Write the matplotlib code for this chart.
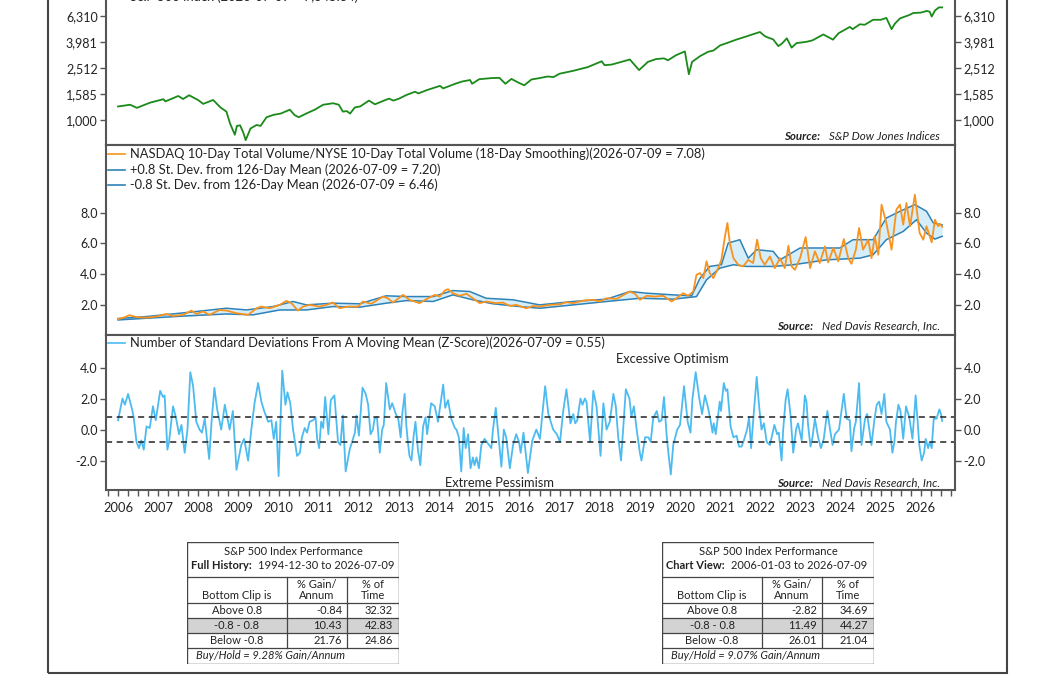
import numpy as np
import matplotlib
matplotlib.use("Agg")
import matplotlib.pyplot as plt
from matplotlib.ticker import FixedLocator, FuncFormatter, MultipleLocator
from matplotlib.patches import Rectangle

plt.rcParams['font.family'] = ['Lato', 'DejaVu Sans']

# ---- S&P 500 (log scale) ----
spx_t = [2006.00, 2006.30, 2006.47, 2006.80, 2007.13, 2007.18, 2007.50, 2007.62, 2007.77, 2008.00,
         2008.12, 2008.37, 2008.55, 2008.70, 2008.79, 2008.85, 2008.91, 2008.96, 2009.04, 2009.12,
         2009.18, 2009.30, 2009.45, 2009.55, 2009.70, 2009.87, 2010.05, 2010.28, 2010.40, 2010.50,
         2010.70, 2010.90, 2011.11, 2011.36, 2011.50, 2011.60, 2011.70, 2011.78, 2011.90, 2012.03,
         2012.25, 2012.40, 2012.60, 2012.75, 2012.86, 2013.00, 2013.19, 2013.40, 2013.48, 2013.70,
         2014.02, 2014.10, 2014.40, 2014.58, 2014.77, 2014.82, 2015.00, 2015.30, 2015.50, 2015.65,
         2015.80, 2016.00, 2016.12, 2016.30, 2016.50, 2016.70, 2016.85, 2017.00, 2017.34, 2017.70,
         2018.05, 2018.12, 2018.30, 2018.75, 2018.98, 2019.20, 2019.40, 2019.60, 2019.70, 2019.90,
         2020.12, 2020.22, 2020.30, 2020.50, 2020.70, 2020.83, 2021.00, 2021.16, 2021.40, 2021.66,
         2021.80, 2021.99, 2022.12, 2022.20, 2022.32, 2022.45, 2022.55, 2022.66, 2022.78, 2022.90,
         2023.16, 2023.30, 2023.57, 2023.81, 2023.95, 2024.23, 2024.30, 2024.48, 2024.60, 2024.81,
         2025.00, 2025.14, 2025.27, 2025.35, 2025.48, 2025.70, 2025.81, 2026.00, 2026.15, 2026.22,
         2026.27, 2026.35, 2026.45, 2026.53]
spx_v = [1270, 1310, 1240, 1360, 1445, 1390, 1530, 1450, 1550, 1420,
         1330, 1425, 1250, 1160, 940, 850, 770, 900, 910, 800,
         700, 860, 915, 900, 1050, 1095, 1120, 1200, 1090, 1050,
         1125, 1200, 1310, 1345, 1310, 1160, 1170, 1120, 1250, 1270,
         1410, 1320, 1400, 1460, 1410, 1460, 1560, 1650, 1600, 1700,
         1830, 1750, 1900, 1980, 2030, 1900, 2060, 2100, 2110, 1900,
         2070, 1920, 1850, 2050, 2100, 2160, 2140, 2270, 2390, 2550,
         2830, 2640, 2670, 2920, 2420, 2800, 2940, 2980, 2880, 3150,
         3370, 2250, 2800, 3100, 3350, 3420, 3750, 3900, 4150, 4400,
         4550, 4750, 4400, 4300, 4170, 3700, 3900, 4250, 3600, 3900,
         4000, 4100, 4550, 4150, 4650, 5200, 5000, 5450, 5400, 5900,
         5900, 6100, 5000, 5500, 6050, 6400, 6650, 6700, 6900, 6800,
         6250, 6950, 7350, 7346]

# ---- NASDAQ/NYSE volume ratio ----
ratio_t = [2006.00, 2006.17, 2006.29, 2006.46, 2006.71, 2006.95, 2007.20, 2007.37, 2007.62, 2007.83,
           2007.95, 2008.12, 2008.28, 2008.53, 2008.70, 2008.95, 2009.24, 2009.45, 2009.57, 2009.78,
           2010.03, 2010.19, 2010.32, 2010.48, 2010.61, 2010.77, 2011.02, 2011.19, 2011.35, 2011.52,
           2011.73, 2011.98, 2012.10, 2012.31, 2012.60, 2012.72, 2012.85, 2013.10, 2013.26, 2013.51,
           2013.68, 2013.89, 2014.01, 2014.14, 2014.22, 2014.34, 2014.51, 2014.68, 2014.84, 2015.01,
           2015.17, 2015.42, 2015.59, 2015.76, 2015.92, 2016.17, 2016.34, 2016.50, 2016.76, 2017.01,
           2017.17, 2017.34, 2017.59, 2017.84, 2018.00, 2018.17, 2018.42, 2018.67, 2018.75, 2018.88,
           2019.00, 2019.17, 2019.37, 2019.58, 2019.79, 2019.91, 2020.08, 2020.20, 2020.33, 2020.41,
           2020.50, 2020.58, 2020.66, 2020.74, 2020.83, 2020.95, 2021.03, 2021.12, 2021.18, 2021.24,
           2021.33, 2021.45, 2021.57, 2021.70, 2021.82, 2021.92, 2022.01, 2022.11, 2022.24, 2022.36,
           2022.49, 2022.61, 2022.70, 2022.78, 2022.86, 2022.99, 2023.13, 2023.24, 2023.36, 2023.48,
           2023.61, 2023.69, 2023.82, 2023.94, 2024.08, 2024.19, 2024.27, 2024.38, 2024.46, 2024.56,
           2024.69, 2024.77, 2024.85, 2024.94, 2025.02, 2025.14, 2025.27, 2025.39, 2025.48, 2025.56,
           2025.64, 2025.73, 2025.85, 2025.97, 2026.06, 2026.14, 2026.27, 2026.35, 2026.43, 2026.47,
           2026.53]
ratio_v = [1.07, 1.20, 1.33, 1.20, 1.17, 1.24, 1.41, 1.28, 1.35, 1.63,
           1.41, 1.57, 1.35, 1.67, 1.63, 1.46, 1.35, 1.78, 1.89, 1.78,
           2.00, 2.26, 2.11, 1.63, 1.89, 2.00, 1.89, 2.00, 2.15, 1.78,
           1.89, 1.89, 2.22, 2.07, 2.54, 2.43, 2.15, 2.65, 2.33, 2.11,
           2.37, 2.65, 2.54, 2.93, 3.02, 2.76, 2.59, 2.72, 2.43, 2.11,
           2.22, 2.11, 2.15, 1.93, 2.00, 1.78, 1.93, 1.89, 2.00, 2.04,
           2.17, 2.11, 2.28, 2.33, 2.22, 2.43, 2.39, 2.76, 2.87, 2.72,
           2.33, 2.59, 2.54, 2.59, 2.22, 2.43, 2.76, 2.59, 2.87, 3.96,
           4.07, 3.74, 4.83, 4.07, 3.74, 4.39, 4.93, 6.46, 7.33, 6.02,
           5.04, 4.61, 4.50, 4.93, 4.72, 6.24, 5.04, 4.61, 5.15, 4.39,
           5.04, 4.39, 5.85, 4.50, 4.28, 5.04, 6.41, 4.39, 5.48, 4.72,
           5.80, 4.76, 5.70, 4.83, 6.28, 5.04, 4.67, 5.59, 7.00, 5.59,
           6.24, 5.04, 6.46, 5.26, 8.52, 7.33, 5.59, 8.20, 8.52, 7.22,
           8.63, 7.11, 9.17, 6.67, 6.24, 7.11, 6.07, 7.54, 7.11, 7.28,
           7.08]

upper_t = [2006.00, 2006.71, 2007.70, 2008.70, 2009.20, 2009.86, 2010.36, 2010.69, 2011.35, 2012.02,
           2012.68, 2013.18, 2013.85, 2014.34, 2014.76, 2015.17, 2015.84, 2016.50, 2017.34, 2018.17,
           2018.75, 2019.17, 2019.83, 2020.29, 2020.50, 2020.74, 2021.03, 2021.20, 2021.49, 2021.70,
           2021.91, 2022.32, 2022.49, 2022.99, 2023.65, 2023.98, 2024.31, 2024.81, 2025.14, 2025.48,
           2025.85, 2026.14, 2026.31, 2026.53]
upper_v = [1.11, 1.24, 1.50, 1.78, 1.67, 1.89, 2.22, 2.00, 2.11, 2.07,
           2.59, 2.54, 2.54, 2.93, 2.87, 2.43, 2.33, 2.00, 2.22, 2.37,
           2.87, 2.76, 2.65, 2.59, 3.74, 4.50, 4.61, 6.02, 6.24, 5.04,
           5.59, 5.48, 4.93, 5.70, 5.70, 5.70, 6.24, 6.24, 7.65, 8.09,
           8.52, 8.09, 7.33, 7.20]

lower_t = [2006.00, 2006.71, 2007.70, 2008.70, 2009.36, 2010.03, 2010.69, 2011.35, 2012.02, 2012.68,
           2013.18, 2013.85, 2014.34, 2014.84, 2015.34, 2016.00, 2016.51, 2017.34, 2018.17, 2019.00,
           2019.83, 2020.41, 2020.66, 2020.99, 2021.33, 2021.66, 2022.32, 2022.82, 2023.65, 2024.48,
           2024.81, 2025.14, 2025.56, 2025.89, 2026.14, 2026.35, 2026.53]
lower_v = [1.02, 1.13, 1.28, 1.41, 1.35, 1.67, 1.67, 1.89, 1.85, 2.11,
           2.28, 2.22, 2.65, 2.33, 2.07, 1.89, 1.78, 2.00, 2.22, 2.43,
           2.37, 2.54, 3.63, 4.39, 4.61, 4.50, 4.50, 4.61, 4.93, 5.04,
           5.26, 6.24, 6.78, 7.54, 6.67, 6.28, 6.46]

# ---- Z-score ----
z_t = [2006.00, 2006.11, 2006.17, 2006.25, 2006.35, 2006.39, 2006.46, 2006.52, 2006.58, 2006.64,
       2006.71, 2006.79, 2006.87, 2006.94, 2007.01, 2007.05, 2007.12, 2007.16, 2007.23, 2007.27,
       2007.37, 2007.44, 2007.52, 2007.58, 2007.66, 2007.73, 2007.80, 2007.87, 2007.95, 2008.03,
       2008.09, 2008.16, 2008.27, 2008.33, 2008.40, 2008.47, 2008.57, 2008.66, 2008.72, 2008.78,
       2008.86, 2008.95, 2009.01, 2009.07, 2009.14, 2009.24, 2009.32, 2009.40, 2009.49, 2009.57,
       2009.64, 2009.74, 2009.82, 2009.88, 2009.94, 2010.00, 2010.09, 2010.17, 2010.22, 2010.29,
       2010.36, 2010.46, 2010.53, 2010.58, 2010.65, 2010.71, 2010.77, 2010.86, 2010.92, 2010.96,
       2011.01, 2011.06, 2011.11, 2011.16, 2011.24, 2011.30, 2011.39, 2011.48, 2011.54, 2011.60,
       2011.67, 2011.77, 2011.90, 2011.94, 2012.00, 2012.09, 2012.17, 2012.23, 2012.29, 2012.35,
       2012.39, 2012.45, 2012.52, 2012.58, 2012.62, 2012.68, 2012.77, 2012.83, 2012.92, 2012.98,
       2013.04, 2013.08, 2013.14, 2013.18, 2013.22, 2013.26, 2013.31, 2013.36, 2013.41, 2013.47,
       2013.53, 2013.60, 2013.66, 2013.70, 2013.80, 2013.89, 2013.97, 2014.10, 2014.15, 2014.22,
       2014.30, 2014.39, 2014.43, 2014.49, 2014.55, 2014.61, 2014.66, 2014.72, 2014.78, 2014.84,
       2014.88, 2014.93, 2014.99, 2015.05, 2015.13, 2015.30, 2015.34, 2015.41, 2015.55, 2015.61,
       2015.67, 2015.76, 2015.84, 2015.92, 2015.99, 2016.03, 2016.10, 2016.21, 2016.32, 2016.42,
       2016.51, 2016.64, 2016.72, 2016.84, 2016.93, 2017.01, 2017.09, 2017.17, 2017.27, 2017.34,
       2017.39, 2017.44, 2017.52, 2017.57, 2017.63, 2017.67, 2017.76, 2017.84, 2017.92, 2018.02,
       2018.09, 2018.17, 2018.25, 2018.34, 2018.40, 2018.46, 2018.53, 2018.65, 2018.74, 2018.79,
       2018.85, 2018.92, 2019.00, 2019.04, 2019.13, 2019.21, 2019.27, 2019.33, 2019.42, 2019.48,
       2019.54, 2019.60, 2019.67, 2019.71, 2019.77, 2019.83, 2019.87, 2019.93, 2020.00, 2020.10,
       2020.19, 2020.26, 2020.31, 2020.39, 2020.48, 2020.55, 2020.62, 2020.69, 2020.76, 2020.81,
       2020.84, 2020.89, 2020.99, 2021.02, 2021.09, 2021.14, 2021.18, 2021.26, 2021.33, 2021.41,
       2021.47, 2021.53, 2021.59, 2021.67, 2021.72, 2021.77, 2021.82, 2021.91, 2021.97, 2022.03,
       2022.09, 2022.16, 2022.24, 2022.35, 2022.42, 2022.46, 2022.53, 2022.57, 2022.63, 2022.68,
       2022.75, 2022.82, 2022.89, 2022.94, 2023.03, 2023.11, 2023.15, 2023.19, 2023.25, 2023.30,
       2023.36, 2023.44, 2023.51, 2023.58, 2023.67, 2023.72, 2023.80, 2023.86, 2023.96, 2024.08,
       2024.15, 2024.23, 2024.27, 2024.34, 2024.38, 2024.46, 2024.52, 2024.61, 2024.66, 2024.77,
       2024.84, 2024.90, 2024.96, 2025.02, 2025.09, 2025.14, 2025.23, 2025.29, 2025.34, 2025.38,
       2025.44, 2025.49, 2025.56, 2025.63, 2025.71, 2025.79, 2025.87, 2025.92, 2025.96, 2026.02,
       2026.08, 2026.12, 2026.18, 2026.22, 2026.27, 2026.32, 2026.39, 2026.46, 2026.50, 2026.53]
z_v = [0.6, 2.0, 1.6, 2.3, 1.3, 0.8, -0.8, -1.2, -0.7, -1.3,
       0.2, 0.1, 1.5, 0.6, 1.8, 2.5, 2.1, 2.2, -1.3, -0.8,
       1.5, 0.8, -0.3, 0.3, -1.5, 0.0, 3.7, 2.8, 0.5, 0.0,
       -0.2, 0.7, -1.9, 0.5, 2.7, 1.3, 0.0, 1.6, 0.8, 0.0,
       1.2, -2.6, -1.8, -1.0, -0.6, -2.0, 0.0, 1.7, 3.0, 1.8,
       1.2, 0.5, 0.6, -0.6, 0.5, -3.0, 3.8, 1.6, 2.4, 1.7,
       0.0, -1.7, -1.5, -0.5, 0.1, -0.2, 0.5, 0.6, 0.8, -0.6,
       -1.2, 0.5, 0.1, 2.1, -0.3, 1.9, 2.2, -0.8, -1.0, 0.9,
       -2.7, -1.3, -0.2, 0.9, -0.4, 2.7, 2.3, 1.6, -0.3, 0.0,
       0.7, 0.8, -1.5, 0.0, 0.3, 3.0, 1.3, 1.7, 1.0, 0.7,
       -0.5, 1.0, 2.3, 0.3, -0.8, -1.7, -2.0, -0.5, 0.5, -1.3,
       -2.3, 0.2, 0.8, -0.3, 1.7, 1.5, 0.5, 2.9, 1.4, 1.9,
       0.7, 0.1, 0.0, -0.5, -2.7, 0.1, -1.2, -0.3, -2.5, -1.8,
       -2.3, -1.8, -2.5, -1.0, -0.6, -1.2, 0.0, 1.4, -2.4, 0.0,
       -0.5, -2.5, -1.0, -0.3, -0.8, -1.5, -0.2, -2.8, -0.7, 0.0,
       -0.6, 2.8, 1.0, 0.0, -0.3, -0.8, 1.2, 2.6, 0.4, 1.0,
       0.4, 0.6, 2.0, 1.6, 2.0, 1.8, -0.8, 2.5, 1.5, -1.7,
       1.7, 0.0, 0.5, 2.3, 1.5, -0.5, -2.0, 2.6, 2.0, 0.8,
       1.5, 0.0, -1.5, -2.0, -0.5, -0.5, -0.8, 0.7, 1.2, 0.5,
       0.6, 2.1, -0.5, -1.5, -2.9, -1.0, -0.6, 0.0, 0.3, 2.8,
       0.5, -0.2, 2.0, 3.7, 2.0, 1.0, 2.2, 1.5, 0.6, -0.2,
       0.4, -0.3, 1.8, 1.2, 3.0, 2.5, 2.6, 0.2, -0.5, -0.4,
       -1.1, -1.1, -0.7, 0.0, 0.8, -1.2, 0.5, 3.4, 1.5, 0.0,
       0.4, -0.8, -1.0, 0.3, -0.3, -0.2, -2.0, 0.0, 1.9, 2.6,
       1.0, -1.5, 0.0, 0.4, -0.7, 2.2, 1.8, 0.3, -1.1, -0.5,
       0.7, -0.5, -1.2, -0.6, 1.2, 0.3, -1.0, -0.3, 0.0, 2.3,
       0.7, 0.6, -1.4, 0.1, 0.5, 3.0, -1.0, 0.7, 1.0, -1.0,
       0.6, 1.6, 1.8, 1.0, 2.3, 0.5, 0.0, -1.5, -0.8, 0.5,
       1.6, 1.2, -0.6, 1.5, 0.8, -0.6, 2.2, 0.5, -1.0, -2.0,
       -1.5, -0.6, -1.2, -0.8, -1.2, 0.7, 0.7, 1.3, 1.0, 0.55]

clip_hi, clip_lo = 0.8, -0.8

# ---- performance tables ----
clip_rows = ["Above 0.8", "-0.8 - 0.8", "Below -0.8"]
full_gain = ["-0.84", "10.43", "21.76"]
full_time = ["32.32", "42.83", "24.86"]
view_gain = ["-2.82", "11.49", "26.01"]
view_time = ["34.69", "44.27", "21.04"]

W, H = 1056, 675
fig = plt.figure(figsize=(W / 100, H / 100), dpi=100)

spine_col = "#555555"
txt_col = "#222222"
green = "#1a8a1a"
orange = "#f7931e"
band_col = "#2f82b8"
band_fill = "#d5eefa"
zcol = "#4dbbf0"


def px_axes(x0, y0, x1, y1):
    return fig.add_axes([x0 / W, 1 - y1 / H, (x1 - x0) / W, (y1 - y0) / H])


def style(ax, ticks, fmt):
    for s in ax.spines.values():
        s.set_color(spine_col)
        s.set_linewidth(1.5)
    ax.yaxis.set_major_locator(FixedLocator(ticks))
    ax.yaxis.set_major_formatter(FuncFormatter(fmt))
    ax.yaxis.set_minor_locator(FixedLocator([]))
    ax.tick_params(axis='y', which='both', direction='out', length=4, width=1,
                   color=spine_col, labelsize=9, labelcolor=txt_col,
                   left=True, right=True, labelleft=True, labelright=True, pad=2)
    ax.set_xlim(2005.70, 2026.85)


def source(ax, name, y):
    t = ax.text(0.982, y, name, transform=ax.transAxes, ha='right', va='center',
                fontsize=8.3, style='italic', color=txt_col)
    ax.annotate("Source:", xy=(0, 0.5), xycoords=t, xytext=(-6, 0),
                textcoords='offset points', ha='right', va='center',
                fontsize=8.3, style='italic', fontweight='bold', color=txt_col)


def legend_line(ax, y, color, label):
    ax.plot([0.0024, 0.0224], [y, y], transform=ax.transAxes, color=color,
            lw=1.2, clip_on=False)
    ax.text(0.0283, y, label, transform=ax.transAxes, ha='left', va='center',
            fontsize=9.3, color=txt_col)


# top panel: S&P 500
ax1 = px_axes(106, -12, 955, 145)
ax1.plot(spx_t, spx_v, color=green, lw=1.3)
ax1.set_yscale('log')
ax1.set_ylim(642, 10361)
style(ax1, [1000, 1585, 2512, 3981, 6310], lambda v, p: f"{v:,.0f}")
ax1.set_xticks([])
legend_line(ax1, 0.943, green, "S&P 500 Index (2026-07-09 = 7,345.84)")
source(ax1, "S&P Dow Jones Indices", 0.053)

# middle panel: volume ratio with bands
ax2 = px_axes(106, 145, 955, 335)
grid_t = np.union1d(upper_t, lower_t)
ax2.fill_between(grid_t, np.interp(grid_t, lower_t, lower_v),
                 np.interp(grid_t, upper_t, upper_v), color=band_fill, lw=0)
ax2.plot(upper_t, upper_v, color=band_col, lw=1.1)
ax2.plot(lower_t, lower_v, color=band_col, lw=1.1)
ax2.plot(ratio_t, ratio_v, color=orange, lw=1.3)
ax2.set_ylim(0.04, 12.4)
style(ax2, [2.0, 4.0, 6.0, 8.0], lambda v, p: f"{v:.1f}")
ax2.set_xticks([])
legend_line(ax2, 0.953, orange,
            "NASDAQ 10-Day Total Volume/NYSE 10-Day Total Volume (18-Day Smoothing)(2026-07-09 = 7.08)")
legend_line(ax2, 0.868, band_col, "+0.8 St. Dev. from 126-Day Mean (2026-07-09 = 7.20)")
legend_line(ax2, 0.789, band_col, "-0.8 St. Dev. from 126-Day Mean (2026-07-09 = 6.46)")
source(ax2, "Ned Davis Research, Inc.", 0.047)

# bottom panel: z-score
ax3 = px_axes(106, 335, 955, 490)
ax3.plot(z_t, z_v, color=zcol, lw=1.3)
ax3.axhline(clip_hi, color="#222222", lw=1.1, ls=(0, (4, 3)))
ax3.axhline(clip_lo, color="#222222", lw=1.1, ls=(0, (4, 3)))
ax3.set_ylim(-3.9, 6.1)
style(ax3, [-2.0, 0.0, 2.0, 4.0], lambda v, p: f"{v:.1f}")
ax3.xaxis.set_major_locator(MultipleLocator(1))
ax3.xaxis.set_minor_locator(MultipleLocator(0.25))
ax3.xaxis.set_major_formatter(FuncFormatter(lambda v, p: f"{v:.0f}"))
ax3.tick_params(axis='x', which='both', direction='out', length=4, width=1,
                color=spine_col, labelsize=9.3, labelcolor=txt_col, pad=5)
legend_line(ax3, 0.950, zcol,
            "Number of Standard Deviations From A Moving Mean (Z-Score)(2026-07-09 = 0.55)")
ax3.text(0.667, 0.845, "Excessive Optimism", transform=ax3.transAxes,
         ha='center', va='center', fontsize=9.3, color=txt_col)
ax3.text(0.464, 0.045, "Extreme Pessimism", transform=ax3.transAxes,
         ha='center', va='center', fontsize=9.3, color=txt_col)
source(ax3, "Ned Davis Research, Inc.", 0.045)

# outer frame
fig.patches.append(Rectangle((48 / W, 2 / H), 959 / W, 1.2, transform=fig.transFigure,
                             fill=False, ec="#444444", lw=1.5))


def perf_table(x0, head, dates, gains, times, buyhold):
    ax = px_axes(x0, 542, x0 + 212, 664)
    ax.set_xlim(0, 212)
    ax.set_ylim(122, 0)
    ax.axis('off')
    ax.add_patch(Rectangle((0, 76), 212, 15, fc="#d3d3d3", ec='none'))
    lc = "#444444"
    ax.add_patch(Rectangle((0, 0), 212, 122, fill=False, ec=lc, lw=1))
    for y in [34.5, 61, 76, 91, 106]:
        ax.plot([0, 212], [y, y], color=lc, lw=0.9)
    for x in [100, 160]:
        ax.plot([x, x], [34.5, 106], color=lc, lw=0.9)
    fs = 8
    ax.text(106, 9.5, "S&P 500 Index Performance", ha='center', va='center', fontsize=fs, color=txt_col)
    hx = 65 if head.startswith("Full") else 62.5
    ax.text(hx, 23.5, head, ha='right', va='center', fontsize=fs, fontweight='bold', color=txt_col)
    ax.text(hx + 6.5, 23.5, dates, ha='left', va='center', fontsize=fs, color=txt_col)
    ax.text(50, 53.5, "Bottom Clip is", ha='center', va='center', fontsize=fs, color=txt_col)
    ax.text(130, 43, "% Gain/", ha='center', va='center', fontsize=fs, color=txt_col)
    ax.text(130, 53.5, "Annum", ha='center', va='center', fontsize=fs, color=txt_col)
    ax.text(186, 43, "% of", ha='center', va='center', fontsize=fs, color=txt_col)
    ax.text(186, 53.5, "Time", ha='center', va='center', fontsize=fs, color=txt_col)
    for i, (lab, g, t) in enumerate(zip(clip_rows, gains, times)):
        y = 68.5 + 15 * i
        ax.text(50, y, lab, ha='center', va='center', fontsize=fs, color=txt_col)
        ax.text(155, y, g, ha='right', va='center', fontsize=fs, color=txt_col)
        ax.text(206, y, t, ha='right', va='center', fontsize=fs, color=txt_col)
    ax.text(9, 113.5, buyhold, ha='left', va='center', fontsize=fs, style='italic', color=txt_col)


perf_table(187, "Full History:", "1994-12-30 to 2026-07-09", full_gain, full_time,
           "Buy/Hold = 9.28% Gain/Annum")
perf_table(662, "Chart View:", "2006-01-03 to 2026-07-09", view_gain, view_time,
           "Buy/Hold = 9.07% Gain/Annum")

fig.savefig("out.png", dpi=100)
